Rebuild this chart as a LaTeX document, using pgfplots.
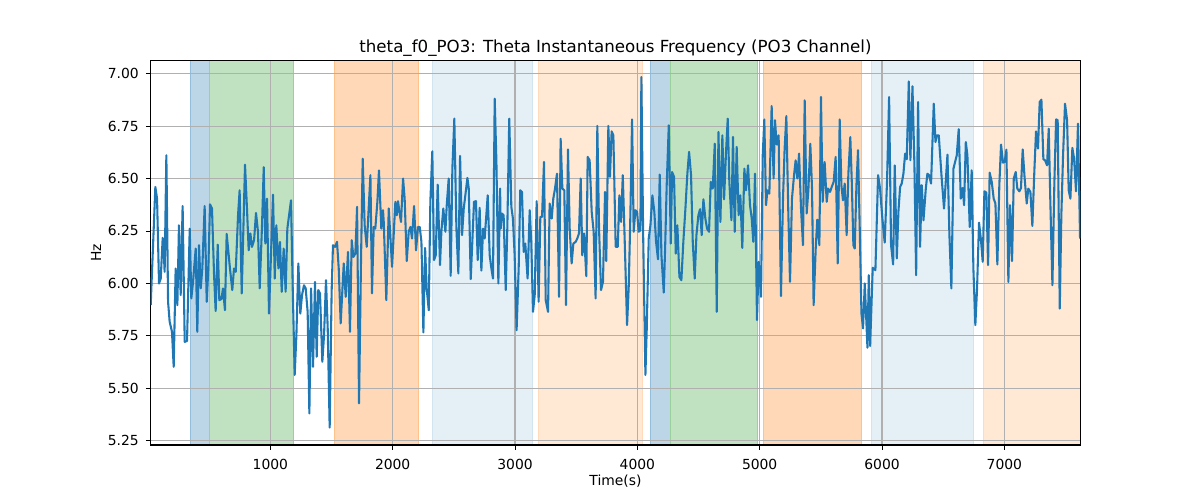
\documentclass[border=0pt]{standalone}
\usepackage{fontspec}
\setmainfont{DejaVu Sans}
\usepackage{pgfplots}
\pgfplotsset{compat=1.18}
\definecolor{tabblue}{RGB}{31,119,180}
\definecolor{tabgreen}{RGB}{44,160,44}
\definecolor{taborange}{RGB}{255,127,14}
\definecolor{gridgray}{RGB}{176,176,176}

\begin{document}
\begin{tikzpicture}
\begin{axis}[
    name=ax, set layers=standard, clip mode=individual,
    scale only axis, width=464.8pt, height=192.15pt,
    xmin=22, xmax=7621, ymin=5.229, ymax=7.062,
    xtick={1000,2000,3000,4000,5000,6000,7000},
    ytick={5.25,5.5,5.75,6,6.25,6.5,6.75,7},
    scaled ticks=false,
    xticklabel style={/pgf/number format/1000 sep={}, yshift=-1pt},
    yticklabel style={/pgf/number format/.cd, fixed, fixed zerofill, precision=2},
    /pgf/number format/assume math mode=true,
    tick label style={font=\fontsize{6.94pt}{8pt}\selectfont},
    label style={font=\fontsize{6.94pt}{8pt}\selectfont},
    every axis title shift=0pt,
    title style={font=\fontsize{8.33pt}{10pt}\selectfont, at={(axis description cs:0.5,1)}, anchor=base, yshift=4.15pt},
    xlabel style={at={(axis description cs:0.5,-0.0937)}, anchor=center},
    ylabel style={at={(axis description cs:-0.0588,0.5)}, anchor=center},
    tick align=outside, tick pos=left, major tick length=2.43pt,
    every tick/.style={black, line width=0.4pt},
    axis line style={line width=0.55pt},
    grid=major, grid style={gridgray, line width=0.55pt},
    title={theta\_f0\_PO3: Theta Instantaneous Frequency (PO3 Channel)},
    xlabel={Time(s)}, ylabel={Hz},
    span/.style n args={3}{on layer=axis background, fill=#1!#2, draw=#1!#3, line width=0.4pt},
]
% shaded segments
\addplot[span={tabblue}{30}{48}] coordinates {(343,5) (343,7.2) (504,7.2) (504,5)} -- cycle;
\addplot[span={tabgreen}{30}{48}] coordinates {(504,5) (504,7.2) (1191,7.2) (1191,5)} -- cycle;
\addplot[span={taborange}{30}{48}] coordinates {(1521,5) (1521,7.2) (2213,7.2) (2213,5)} -- cycle;
\addplot[span={tabblue}{12}{20}] coordinates {(2322,5) (2322,7.2) (3139,7.2) (3139,5)} -- cycle;
\addplot[span={taborange}{18}{28}] coordinates {(3188,5) (3188,7.2) (4044,7.2) (4044,5)} -- cycle;
\addplot[span={tabblue}{30}{48}] coordinates {(4104,5) (4104,7.2) (4270,7.2) (4270,5)} -- cycle;
\addplot[span={tabgreen}{30}{48}] coordinates {(4270,5) (4270,7.2) (4979,7.2) (4979,5)} -- cycle;
\addplot[span={taborange}{30}{48}] coordinates {(5033,5) (5033,7.2) (5829,7.2) (5829,5)} -- cycle;
\addplot[span={tabblue}{12}{20}] coordinates {(5911,5) (5911,7.2) (6744,7.2) (6744,5)} -- cycle;
\addplot[span={taborange}{18}{28}] coordinates {(6826,5) (6826,7.2) (7700,7.2) (7700,5)} -- cycle;

% theta instantaneous frequency
\addplot[tabblue, line width=1.04pt, line join=round] coordinates {
(22,5.896)(60,6.460)(74,6.404)(90,5.999)(104,6.023)(120,6.217)(131,6.119)(136,6.055)(150,6.611)(164,5.912)(177,5.817)(196,5.769)(210,5.602)(226,6.071)(240,5.896)(253,6.277)(267,5.944)(283,6.369)(300,5.721)(319,5.725)(341,6.261)(354,5.928)(368,6.007)(390,6.166)(403,5.769)(417,6.182)(431,5.976)(444,6.071)(463,6.369)(480,5.912)(493,6.071)(507,6.377)(523,6.357)(540,6.039)(553,5.868)(570,6.185)(583,5.920)(600,5.925)(613,5.976)(629,5.872)(643,6.236)(670,6.071)(689,5.968)(703,6.071)(717,6.055)(736,6.325)(749,6.444)(766,5.952)(779,6.246)(793,6.566)(809,6.357)(823,6.158)(837,6.238)(850,6.174)(867,6.206)(883,6.336)(899,6.246)(913,5.976)(932,6.277)(946,6.554)(959,6.190)
(973,6.404)(989,5.856)(1022,6.423)(1036,6.023)(1049,6.277)(1066,6.071)(1079,6.198)(1093,5.960)(1109,6.166)(1125,5.960)(1139,6.261)(1169,6.396)(1183,5.976)(1199,5.563)(1213,5.753)(1229,6.095)(1245,5.856)(1259,5.944)(1275,5.991)(1289,5.976)(1305,5.864)(1319,5.380)(1333,5.976)(1349,5.602)(1365,6.007)(1379,5.650)(1392,5.968)(1406,5.952)(1425,5.626)(1439,5.753)(1455,6.015)(1469,5.785)(1485,5.312)(1501,5.960)(1512,6.182)(1529,6.174)(1545,6.198)(1559,6.071)(1575,5.809)(1600,6.095)(1616,5.936)(1635,6.150)(1651,5.769)(1665,6.206)(1679,6.126)(1695,6.142)(1709,6.365)(1725,5.428)(1741,6.103)(1755,6.595)(1771,6.277)(1788,6.174)(1801,6.325)(1818,6.516)(1831,5.952)(1845,6.269)(1858,6.261)(1875,6.389)(1888,6.539)(1907,6.261)(1921,6.349)
(1927,6.293)(1948,5.920)(1968,6.357)(1995,6.079)(2022,6.389)(2033,6.325)(2044,6.392)(2055,6.341)(2068,6.293)(2085,6.500)(2098,6.404)(2115,6.106)(2131,6.246)(2145,6.269)(2158,6.214)(2175,6.369)(2191,6.158)(2207,6.269)(2221,6.269)(2235,6.198)(2251,5.766)(2265,6.169)(2278,5.976)(2295,5.872)(2308,6.389)(2324,6.630)(2338,6.111)(2352,6.134)(2368,6.471)(2387,6.087)(2398,6.246)(2414,6.357)(2431,6.246)(2442,6.373)(2458,6.500)(2474,6.036)(2488,6.547)(2504,6.786)(2521,6.261)(2537,6.047)(2551,6.608)(2567,6.230)(2581,6.357)(2611,6.503)(2622,6.452)(2638,6.020)(2665,6.389)(2681,6.392)(2695,6.111)(2711,6.360)(2725,6.061)(2739,6.261)(2752,6.214)(2777,6.420)(2793,6.134)(2807,6.071)(2820,6.023)(2834,6.881)(2848,6.579)(2864,6.000)(2878,6.452)
(2883,6.261)(2894,6.333)(2907,6.325)(2924,5.968)(2937,6.261)(2953,6.786)(2970,6.365)(2983,6.309)(2997,6.134)(3013,5.777)(3030,6.071)(3043,6.444)(3057,6.436)(3071,6.150)(3084,6.190)(3103,6.023)(3120,6.349)(3133,6.198)(3147,5.864)(3161,5.944)(3177,6.392)(3193,5.912)(3207,6.317)(3221,6.317)(3237,6.579)(3251,5.920)(3270,5.864)(3283,6.381)(3300,6.309)(3313,6.404)(3327,6.452)(3343,6.523)(3360,5.936)(3373,6.690)(3387,6.452)(3403,6.444)(3417,5.896)(3433,6.639)(3447,6.261)(3463,6.095)(3477,6.190)(3496,6.198)(3509,6.214)(3523,6.238)(3537,6.500)(3550,6.134)(3564,6.238)(3583,6.034)(3594,6.603)(3610,6.587)(3627,6.341)(3643,6.246)(3659,5.928)(3673,6.751)(3687,6.261)(3703,5.968)(3719,6.007)(3736,6.436)(3746,6.106)(3763,6.751)(3776,6.508)(3790,6.725)(3804,6.706)(3823,6.174)
(3840,6.174)(3853,6.420)(3867,6.293)(3881,6.516)(3897,6.198)(3916,5.801)(3930,5.991)(3943,6.325)(3957,6.782)(3970,6.246)(3984,6.349)(3998,6.341)(4011,6.246)(4025,6.253)(4033,6.984)(4047,6.253)(4058,5.848)(4066,5.563)(4077,5.785)(4093,6.214)(4107,6.277)(4123,6.420)(4139,6.341)(4153,6.198)(4169,6.115)(4183,6.519)(4197,6.134)(4216,5.956)(4227,6.166)(4240,6.468)(4257,6.754)(4273,6.190)(4284,6.531)(4300,6.508)(4314,6.142)(4327,6.277)(4344,6.031)(4360,6.015)(4376,6.198)(4393,6.357)(4409,6.524)(4423,6.627)(4439,6.516)(4453,6.198)(4469,6.023)(4483,6.230)(4499,6.325)(4513,6.354)(4526,6.230)(4540,6.401)(4556,6.309)(4570,6.261)(4586,6.246)(4600,6.484)(4616,6.452)(4633,6.666)(4649,5.864)(4663,6.722)(4679,6.293)(4695,6.706)(4709,6.401)(4725,6.627)(4739,6.786)(4752,6.484)(4769,6.301)(4782,6.698)
(4796,6.246)(4812,6.651)(4828,6.325)(4842,6.420)(4858,6.169)(4875,6.547)(4888,6.444)(4905,6.563)(4921,6.373)(4935,6.309)(4948,6.198)(4962,6.523)(4978,5.825)(4992,6.103)(5000,6.039)(5011,5.936)(5025,6.611)(5038,6.782)(5052,6.373)(5063,6.444)(5079,6.428)(5098,6.846)(5114,6.500)(5125,6.778)(5139,6.662)(5155,6.706)(5174,5.939)(5191,6.412)(5204,6.643)(5218,6.798)(5234,6.341)(5248,6.007)(5264,6.404)(5281,6.516)(5294,6.587)(5308,6.500)(5322,6.619)(5338,6.357)(5354,6.182)(5368,6.873)(5384,6.333)(5398,6.444)(5414,6.666)(5428,6.452)(5441,5.896)(5458,6.166)(5471,6.304)(5488,6.182)(5501,6.889)(5515,6.389)(5531,6.579)(5548,6.389)(5559,6.452)(5575,6.436)(5589,6.460)(5605,6.484)(5621,6.603)(5638,6.095)(5654,6.782)(5668,6.468)(5681,6.396)(5695,6.476)(5711,6.230)(5725,6.523)(5741,6.698)
(5753,6.484)(5766,6.182)(5777,6.166)(5791,6.468)(5804,6.635)(5818,6.261)(5832,5.856)(5845,5.785)(5859,6.000)(5870,5.848)(5881,5.693)(5892,6.039)(5903,5.701)(5913,5.880)(5924,6.074)(5946,6.063)(5968,6.516)(5984,6.452)(6003,6.309)(6022,6.195)(6041,6.484)(6058,6.889)(6074,6.182)(6091,6.090)(6104,6.563)(6121,6.119)(6134,6.341)(6148,6.460)(6161,6.476)(6175,6.523)(6189,6.619)(6202,6.592)(6219,6.963)(6232,6.587)(6249,6.940)(6265,6.563)(6279,6.039)(6295,6.865)(6311,6.174)(6325,6.468)(6339,6.301)(6358,6.452)(6371,6.523)(6385,6.516)(6401,6.476)(6423,6.857)(6437,6.674)(6448,6.706)(6464,6.706)(6488,6.500)(6507,6.357)(6521,6.484)(6535,6.614)(6551,6.230)(6567,5.976)(6584,6.547)(6611,6.611)(6627,6.735)(6644,6.404)(6660,6.455)(6671,6.373)(6685,6.674)(6698,6.611)
(6717,6.269)(6733,6.539)(6747,6.071)(6763,5.801)(6777,5.976)(6793,6.290)(6809,6.206)(6823,6.103)(6837,6.439)(6853,6.433)(6867,6.087)(6880,6.528)(6897,6.484)(6913,6.404)(6927,6.381)(6943,6.090)(6959,6.468)(6973,6.662)(6989,6.576)(7003,6.579)(7017,6.638)(7033,6.007)(7047,6.373)(7063,6.106)(7077,6.500)(7093,6.531)(7106,6.452)(7123,6.439)(7136,6.455)(7150,6.639)(7166,6.500)(7183,6.381)(7196,6.452)(7213,6.436)(7229,6.274)(7245,6.531)(7259,6.725)(7275,6.643)(7289,6.865)(7303,6.876)(7319,6.592)(7333,6.587)(7349,6.563)(7363,6.738)(7376,6.389)(7393,5.991)(7409,6.481)(7423,6.782)(7436,6.778)(7453,5.880)(7466,6.325)(7480,6.611)(7496,6.857)(7513,6.778)(7526,6.444)(7540,6.404)(7556,6.646)(7570,6.595)(7586,6.439)(7602,6.762)(7619,6.214)
};
\end{axis}
\path ([shift={(-75.35pt,-27.5pt)}]ax.south west) rectangle ([shift={(524.65pt,222.5pt)}]ax.south west);
\end{tikzpicture}
\end{document}
